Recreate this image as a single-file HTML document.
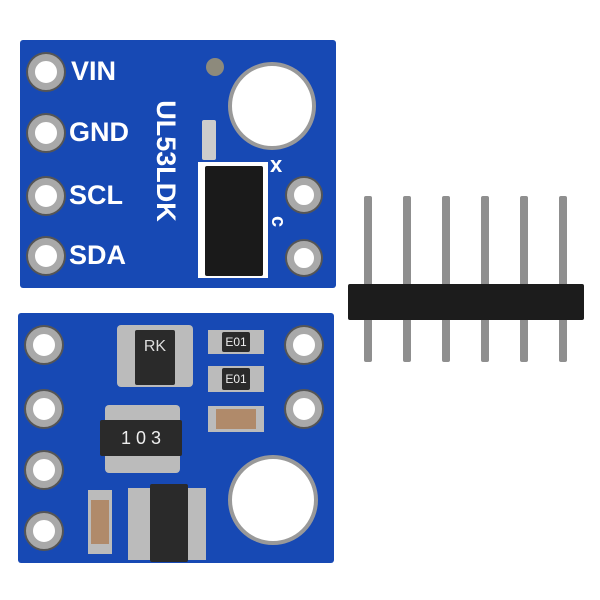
<!DOCTYPE html>
<html><head><style>
body{margin:0;width:600px;height:600px;background:#fff;position:relative;overflow:hidden;font-family:"Liberation Sans",sans-serif}
div{position:absolute;box-sizing:border-box}
.b{background:#1749b4;border-radius:3px}
.h{width:36px;height:36px;border-radius:50%;background:#fff;border:7px solid #a9a9a9;box-shadow:0 0 0 2px #555}
.t{color:#fff;font-weight:bold;font-size:27px}
.p{background:#8f8f8f;width:8px;border-radius:2px}
.c{background:#2a2a2a;border-radius:2px}
.s{background:#bbb}
</style></head><body>
<div class="b" style="left:20px;top:40px;width:316px;height:248px"></div>
<div class="h" style="left:28px;top:54px"></div>
<div class="h" style="left:28px;top:115px"></div>
<div class="h" style="left:28px;top:178px"></div>
<div class="h" style="left:28px;top:238px"></div>
<div class="t" style="left:71px;top:56px">VIN</div>
<div class="t" style="left:69px;top:117px">GND</div>
<div class="t" style="left:69px;top:180px">SCL</div>
<div class="t" style="left:69px;top:240px">SDA</div>
<div class="t" style="left:100px;top:145px;width:130px;height:32px;text-align:center;transform:rotate(90deg);font-size:27px">UL53LDK</div>
<div style="left:206px;top:58px;width:18px;height:18px;border-radius:50%;background:#8d8a7c"></div>
<div style="left:228px;top:62px;width:88px;height:88px;border-radius:50%;background:#fff;border:4px solid #999"></div>
<div style="left:202px;top:120px;width:14px;height:40px;background:#ccc;border-radius:2px"></div>
<div style="left:198px;top:162px;width:70px;height:116px;background:#fff"></div>
<div class="c" style="left:205px;top:166px;width:58px;height:110px;background:#1a1a1a"></div>
<div class="h" style="left:287px;top:178px;width:34px;height:34px"></div>
<div class="h" style="left:287px;top:241px;width:34px;height:34px"></div>
<div class="t" style="left:270px;top:152px;font-size:22px">x</div>
<div class="t" style="left:272px;top:210px;font-size:20px;transform:rotate(90deg)">c</div>
<div class="b" style="left:18px;top:313px;width:316px;height:250px"></div>
<div class="h" style="left:26px;top:327px"></div>
<div class="h" style="left:26px;top:391px"></div>
<div class="h" style="left:26px;top:452px"></div>
<div class="h" style="left:26px;top:513px"></div>
<div class="h" style="left:286px;top:327px"></div>
<div class="h" style="left:286px;top:391px"></div>
<div style="left:228px;top:455px;width:90px;height:90px;border-radius:50%;background:#fff;border:4px solid #999"></div>
<div class="s" style="left:117px;top:325px;width:76px;height:62px;border-radius:4px"></div>
<div class="c" style="left:135px;top:330px;width:40px;height:55px;color:#ddd;font-size:16px;text-align:center;padding-top:8px">RK</div>
<div class="s" style="left:208px;top:330px;width:56px;height:24px"></div>
<div class="c" style="left:222px;top:332px;width:28px;height:20px;color:#eee;font-size:12px;text-align:center;line-height:20px">E01</div>
<div class="s" style="left:208px;top:366px;width:56px;height:26px"></div>
<div class="c" style="left:222px;top:368px;width:28px;height:22px;color:#eee;font-size:12px;text-align:center;line-height:22px">E01</div>
<div style="left:208px;top:406px;width:56px;height:26px;background:#b08a6a;border:8px solid #bbb;border-top-width:3px;border-bottom-width:3px"></div>
<div class="s" style="left:105px;top:405px;width:75px;height:68px;border-radius:4px"></div>
<div class="c" style="left:100px;top:420px;width:82px;height:36px;color:#eee;font-size:18px;text-align:center;line-height:36px">1 0 3</div>
<div style="left:88px;top:490px;width:24px;height:64px;background:#b08a6a;border:3px solid #bbb;border-top-width:10px;border-bottom-width:10px"></div>
<div class="s" style="left:128px;top:488px;width:78px;height:72px"></div>
<div class="c" style="left:150px;top:484px;width:38px;height:78px"></div>
<div class="p" style="left:364px;top:196px;height:166px"></div>
<div class="p" style="left:403px;top:196px;height:166px"></div>
<div class="p" style="left:442px;top:196px;height:166px"></div>
<div class="p" style="left:481px;top:196px;height:166px"></div>
<div class="p" style="left:520px;top:196px;height:166px"></div>
<div class="p" style="left:559px;top:196px;height:166px"></div>
<div style="left:348px;top:284px;width:236px;height:36px;background:#1c1c1c;border-radius:2px"></div>
</body></html>
